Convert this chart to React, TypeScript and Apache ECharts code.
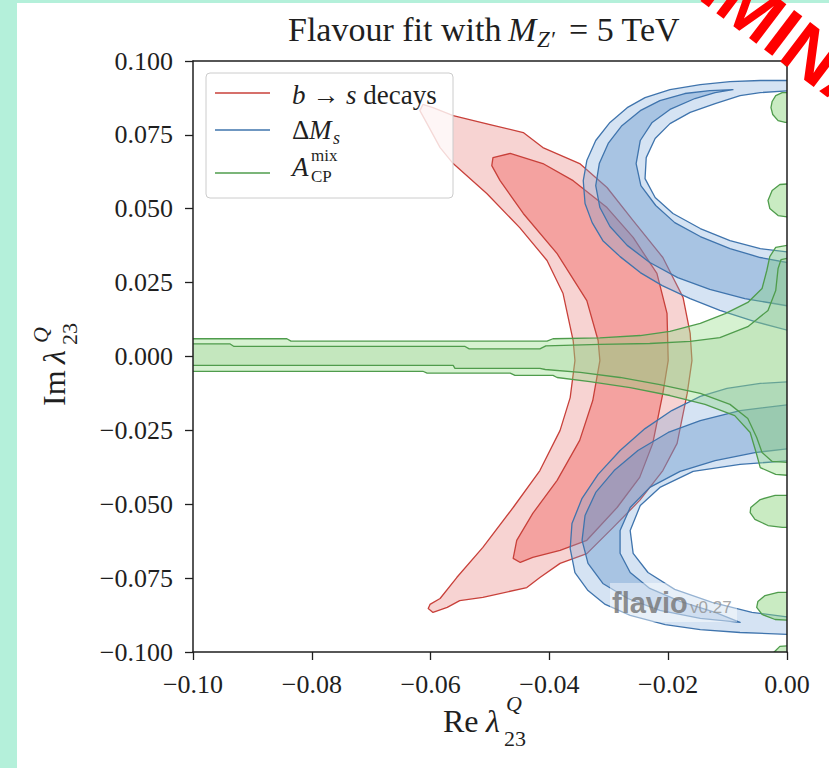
import React, { useEffect, useRef } from "react";
import * as echarts from "echarts";

// ---------- axes ----------
const X_MIN = -0.1, X_MAX = 0, X_STEP = 0.02;
const Y_MIN = -0.1, Y_MAX = 0.1, Y_STEP = 0.025;
const xTickLabels = ["−0.10", "−0.08", "−0.06", "−0.04", "−0.02", "0.00"];
const yTickLabels = ["−0.100", "−0.075", "−0.050", "−0.025", "0.000", "0.025", "0.050", "0.075", "0.100"];

// ---------- b -> s decays (red) ----------
const bsSigma2: number[][] = [
  [-0.0613, 0.0853], [-0.0596, 0.0842], [-0.0562, 0.0815], [-0.05, 0.0785], [-0.0444, 0.0758], [-0.0411, 0.0707],
  [-0.0349, 0.0653], [-0.0303, 0.0572], [-0.0259, 0.046], [-0.0209, 0.0335], [-0.0175, 0.02], [-0.0163, 0.0078],
  [-0.016, -0.0014], [-0.0168, -0.0125], [-0.0185, -0.0294], [-0.0209, -0.0386], [-0.0248, -0.0487], [-0.0293, -0.0579],
  [-0.0337, -0.0667], [-0.0382, -0.07], [-0.0416, -0.0748], [-0.0438, -0.0782], [-0.0512, -0.0815], [-0.0551, -0.0826],
  [-0.0572, -0.0849], [-0.0596, -0.0866], [-0.0604, -0.0853], [-0.0601, -0.0839], [-0.0584, -0.0819], [-0.0556, -0.0748],
  [-0.0512, -0.0646], [-0.0461, -0.0511], [-0.0416, -0.0386], [-0.0382, -0.025], [-0.0365, -0.0139], [-0.0357, -0.0014],
  [-0.036, 0.0054], [-0.0377, 0.0213], [-0.0404, 0.0325], [-0.045, 0.0436], [-0.0505, 0.0551], [-0.0562, 0.0653],
  [-0.0584, 0.0707], [-0.0606, 0.0788], [-0.0618, 0.0832],
];
const bsSigma1: number[][] = [
  [-0.0495, 0.0673], [-0.0466, 0.0687], [-0.0411, 0.0653], [-0.036, 0.0595], [-0.0303, 0.0504], [-0.0259, 0.0403],
  [-0.0219, 0.0281], [-0.0202, 0.0146], [-0.02, -0.0014], [-0.0209, -0.0125], [-0.0226, -0.0294], [-0.0248, -0.0409],
  [-0.0286, -0.0511], [-0.0337, -0.0622], [-0.0382, -0.0656], [-0.0428, -0.068], [-0.0449, -0.0697], [-0.0461, -0.0683],
  [-0.0455, -0.0622], [-0.0428, -0.0531], [-0.0387, -0.0419], [-0.0349, -0.0284], [-0.0327, -0.0149], [-0.0315, -0.0014],
  [-0.0318, 0.0054], [-0.0337, 0.0189], [-0.0387, 0.0348], [-0.0444, 0.0484], [-0.0483, 0.0595], [-0.0497, 0.0646],
];

// ---------- Delta M_s (blue) ----------
const dmsUpOuter2: number[][] = [
  [0.0008, 0.0934], [-0.0045, 0.0934], [-0.0096, 0.093], [-0.0146, 0.092], [-0.0197, 0.0903], [-0.0239, 0.0876],
  [-0.0269, 0.0842], [-0.0298, 0.0792], [-0.0322, 0.0731], [-0.0337, 0.0663], [-0.0343, 0.0595], [-0.034, 0.0518],
  [-0.0328, 0.0453], [-0.031, 0.0392], [-0.0281, 0.0338], [-0.0247, 0.0284], [-0.021, 0.024], [-0.0163, 0.0196],
  [-0.0113, 0.0156], [-0.0054, 0.0118], [0.0008, 0.0085],
];
const dmsUpHole2: number[][] = [
  [0.0008, 0.0352], [-0.0045, 0.0365], [-0.0096, 0.0392], [-0.0146, 0.0433], [-0.0192, 0.0484], [-0.0222, 0.0538],
  [-0.0239, 0.0602], [-0.0237, 0.0673], [-0.0222, 0.0738], [-0.0197, 0.0788], [-0.0163, 0.0826], [-0.0121, 0.0856],
  [-0.0079, 0.0883], [-0.0045, 0.0893], [0.0008, 0.09],
];
const dmsUpOuter1: number[][] = [
  [-0.0091, 0.0903], [-0.013, 0.09], [-0.0172, 0.089], [-0.0214, 0.0866], [-0.0247, 0.0832], [-0.0278, 0.0781],
  [-0.0301, 0.0721], [-0.0316, 0.0653], [-0.0322, 0.0578], [-0.0315, 0.0504], [-0.0298, 0.044], [-0.0269, 0.0376],
  [-0.0231, 0.0318], [-0.0184, 0.0267], [-0.013, 0.0227], [-0.0071, 0.0196], [0.0008, 0.0169],
];
const dmsUpInner1: number[][] = [
  [0.0008, 0.0315], [-0.0045, 0.0335], [-0.0096, 0.0365], [-0.0146, 0.0406], [-0.0189, 0.0453], [-0.0221, 0.0511],
  [-0.0246, 0.0578], [-0.0254, 0.0653], [-0.0247, 0.0731], [-0.0227, 0.0792], [-0.0197, 0.0836], [-0.0155, 0.0873],
  [-0.0121, 0.0893],
];
const dmsLoOuter2: number[][] = [
  [0.0008, -0.0085], [-0.0045, -0.0091], [-0.0101, -0.0108], [-0.0146, -0.0135], [-0.0194, -0.0183], [-0.0239, -0.0244],
  [-0.0281, -0.0318], [-0.0318, -0.0399], [-0.0345, -0.048], [-0.0362, -0.0565], [-0.0365, -0.065], [-0.0357, -0.0731],
  [-0.0335, -0.0792], [-0.0306, -0.0839], [-0.0264, -0.0876], [-0.0205, -0.0907], [-0.0146, -0.0924], [-0.0079, -0.0934],
  [0.0008, -0.0941],
];
const dmsLoHole2: number[][] = [
  [0.0008, -0.0883], [-0.0059, -0.0866], [-0.0126, -0.0832], [-0.0189, -0.0788], [-0.0234, -0.0731], [-0.0259, -0.0666],
  [-0.0264, -0.0589], [-0.0247, -0.0504], [-0.0214, -0.0443], [-0.0158, -0.0389], [-0.0079, -0.0365], [0.0008, -0.0352],
];
const dmsLoOuter1: number[][] = [
  [-0.0079, -0.09], [-0.0146, -0.0886], [-0.0214, -0.0859], [-0.0268, -0.0819], [-0.031, -0.0768], [-0.0335, -0.07],
  [-0.0345, -0.0622], [-0.034, -0.0538], [-0.0322, -0.046], [-0.0291, -0.0386], [-0.0251, -0.0318], [-0.02, -0.0257],
  [-0.0146, -0.0217], [-0.0079, -0.0183], [0.0008, -0.0162],
];
const dmsLoInner1: number[][] = [
  [0.0008, -0.0311], [-0.0054, -0.0325], [-0.0121, -0.0352], [-0.018, -0.0389], [-0.0231, -0.0443], [-0.0264, -0.0511],
  [-0.0281, -0.0589], [-0.0281, -0.0666], [-0.0264, -0.0731], [-0.0231, -0.0785], [-0.018, -0.0829], [-0.0121, -0.0866],
];

// ---------- A_CP^mix (green) ----------
const acp2Top: number[][] = [
  [-0.102, 0.006], [-0.0842, 0.006], [-0.0835, 0.0052], [-0.0404, 0.0052], [-0.0394, 0.006], [-0.0315, 0.0063],
  [-0.0247, 0.0071], [-0.0197, 0.0085], [-0.0146, 0.0112], [-0.0104, 0.0145], [-0.0066, 0.0183], [-0.0042, 0.023],
  [-0.0034, 0.0291], [-0.0029, 0.0338], [-0.0019, 0.0369], [0.0008, 0.0379],
];
const acp2Bottom: number[][] = [
  [0.0008, -0.0403], [-0.0019, -0.0399], [-0.0045, -0.0376], [-0.0052, -0.0325], [-0.0062, -0.0257], [-0.0088, -0.02],
  [-0.0138, -0.0162], [-0.0197, -0.0132], [-0.0264, -0.0105], [-0.0332, -0.0085], [-0.0387, -0.0071], [-0.0394, -0.0064],
  [-0.0458, -0.0064], [-0.0466, -0.0056], [-0.0606, -0.0056], [-0.0613, -0.005], [-0.102, -0.005],
];
const acp1Top: number[][] = [
  [-0.102, 0.0043], [-0.0938, 0.0043], [-0.0931, 0.0034], [-0.0542, 0.0034], [-0.0535, 0.0026], [-0.0416, 0.0026],
  [-0.0406, 0.0036], [-0.0315, 0.0041], [-0.0231, 0.0044], [-0.0163, 0.0051], [-0.0113, 0.0064], [-0.0066, 0.0101],
  [-0.0032, 0.0156], [-0.0019, 0.0223], [-0.0015, 0.0298], [-0.001, 0.0328], [0.0008, 0.0335],
];
const acp1Bottom: number[][] = [
  [0.0008, -0.0359], [-0.0025, -0.0355], [-0.0042, -0.0325], [-0.0051, -0.0274], [-0.0066, -0.021], [-0.0096, -0.0162],
  [-0.0146, -0.0125], [-0.0214, -0.0095], [-0.0281, -0.0071], [-0.0348, -0.0054], [-0.0407, -0.0044], [-0.0416, -0.004],
  [-0.0559, -0.004], [-0.0562, -0.003], [-0.102, -0.003],
];
const acpIslands: number[][][] = [
  [[0.0008, 0.101], [-0.0007, 0.101], [-0.0008, 0.0998], [-0.0002, 0.0984], [0.0008, 0.0981]],
  [[0.0008, 0.0893], [-0.0008, 0.0893], [-0.0019, 0.0883], [-0.0025, 0.0863], [-0.0027, 0.0842], [-0.0024, 0.0819], [-0.0015, 0.0798], [-0.0003, 0.0792], [0.0008, 0.0792]],
  [[0.0008, 0.0585], [-0.0012, 0.0582], [-0.0025, 0.0562], [-0.0032, 0.0528], [-0.0029, 0.0501], [-0.0015, 0.0477], [0.0008, 0.047]],
  [[0.0008, -0.047], [-0.002, -0.047], [-0.0045, -0.0484], [-0.0061, -0.0511], [-0.0062, -0.0528], [-0.0054, -0.0551], [-0.0032, -0.0572], [-0.0008, -0.0578], [0.0008, -0.0578]],
  [[0.0008, -0.0798], [-0.0015, -0.0798], [-0.0037, -0.0809], [-0.0049, -0.0829], [-0.0051, -0.0849], [-0.0042, -0.0873], [-0.002, -0.089], [0.0008, -0.0893]],
  [[0.0008, -0.0978], [-0.0012, -0.0981], [-0.0022, -0.1001], [-0.0022, -0.1015], [0.0008, -0.1015]],
];

// ---------- styles ----------
const SERIF = "'Liberation Serif', 'DejaVu Serif', serif";
const SANS = "'Liberation Sans', 'DejaVu Sans', sans-serif";
const INK = "#1f1f1f";
const RED_EDGE = "#c8403a";
const BLUE_EDGE = "#3f74ad";
const GREEN_EDGE = "#4f9c4c";

function regionSeries(id: string, polys: number[][][], fill: string, stroke: string) {
  return {
    type: "custom",
    id,
    coordinateSystem: "cartesian2d",
    clip: true,
    silent: true,
    data: polys.map((p) => p[0]),
    renderItem: (params: any, api: any) => {
      const poly = polys[params.dataIndex];
      return {
        type: "polygon",
        shape: { points: poly.map((pt) => api.coord(pt)) },
        style: { fill, stroke, lineWidth: 1.3, lineJoin: "round" },
      };
    },
  };
}

function txt(text: string, x: number, y: number, size: number, extra: any = {}) {
  return {
    type: "text",
    x,
    y,
    z: 100,
    silent: true,
    style: {
      text,
      fontFamily: SERIF,
      fontSize: size,
      fill: INK,
      align: "left",
      verticalAlign: "middle",
      ...extra,
    },
  };
}

function tickFormatter(labels: string[], min: number, step: number) {
  return (v: number) => {
    const i = Math.round((v - min) / step);
    return labels[i] ?? "";
  };
}

export default function App() {
  const ref = useRef<HTMLDivElement>(null);

  useEffect(() => {
    if (!ref.current) return;
    const chart = echarts.init(ref.current, undefined, { renderer: "svg", width: 829, height: 768 });

    const axisLineStyle = { color: INK, width: 1.5 };
    const option: any = {
      animation: false,
      backgroundColor: "transparent",
      grid: { left: 193, top: 61, width: 594, height: 591, containLabel: false },
      xAxis: [
        {
          type: "value", min: X_MIN, max: X_MAX, interval: X_STEP, position: "bottom", z: 10,
          axisLine: { show: true, onZero: false, lineStyle: axisLineStyle },
          axisTick: { show: true, length: 8, lineStyle: { color: INK, width: 1.3 } },
          axisLabel: { show: true, margin: 19, fontFamily: SERIF, fontSize: 26, color: INK, formatter: tickFormatter(xTickLabels, X_MIN, X_STEP) },
          splitLine: { show: false },
        },
        {
          type: "value", min: X_MIN, max: X_MAX, position: "top", z: 10,
          axisLine: { show: true, onZero: false, lineStyle: axisLineStyle },
          axisTick: { show: false }, axisLabel: { show: false }, splitLine: { show: false },
        },
      ],
      yAxis: [
        {
          type: "value", min: Y_MIN, max: Y_MAX, interval: Y_STEP, position: "left", z: 10,
          axisLine: { show: true, onZero: false, lineStyle: axisLineStyle },
          axisTick: { show: true, length: 8, lineStyle: { color: INK, width: 1.3 } },
          axisLabel: { show: true, margin: 20, fontFamily: SERIF, fontSize: 26, color: INK, formatter: tickFormatter(yTickLabels, Y_MIN, Y_STEP) },
          splitLine: { show: false },
        },
        {
          type: "value", min: Y_MIN, max: Y_MAX, position: "right", z: 10,
          axisLine: { show: true, onZero: false, lineStyle: axisLineStyle },
          axisTick: { show: false }, axisLabel: { show: false }, splitLine: { show: false },
        },
      ],
      series: [
        regionSeries("bs2", [bsSigma2], "rgba(230,110,105,0.30)", RED_EDGE),
        regionSeries("bs1", [bsSigma1], "rgba(240,90,85,0.40)", RED_EDGE),
        regionSeries("dmsUp2", [dmsUpOuter2.concat(dmsUpHole2)], "rgba(120,165,215,0.31)", BLUE_EDGE),
        regionSeries("dmsUp1", [dmsUpOuter1.concat(dmsUpInner1)], "rgba(90,140,200,0.36)", BLUE_EDGE),
        regionSeries("dmsLo2", [dmsLoOuter2.concat(dmsLoHole2)], "rgba(120,165,215,0.31)", BLUE_EDGE),
        regionSeries("dmsLo1", [dmsLoOuter1.concat(dmsLoInner1)], "rgba(90,140,200,0.36)", BLUE_EDGE),
        regionSeries("acp2", [acp2Top.concat(acp2Bottom)], "rgba(130,215,115,0.33)", GREEN_EDGE),
        regionSeries("acp1", [acp1Top.concat(acp1Bottom)], "rgba(150,205,140,0.28)", GREEN_EDGE),
        regionSeries("acpIslands", acpIslands, "rgba(135,210,120,0.45)", GREEN_EDGE),
      ],
      graphic: [
        // title
        txt("Flavour fit with", 288, 29, 34),
        txt("M", 508, 29, 34, { fontStyle: "italic" }),
        txt("Z′", 537, 39, 23, { fontStyle: "italic" }),
        txt("= 5 TeV", 569, 29, 34),
        // x axis label
        txt("Re", 443, 721, 32),
        txt("λ", 486, 721, 32, { fontStyle: "italic" }),
        txt("Q", 506, 703, 22, { fontStyle: "italic" }),
        txt("23", 504, 738, 22),
        // y axis label (rotated)
        {
          type: "group",
          x: 54,
          y: 356,
          rotation: Math.PI / 2,
          children: [
            txt("Im", -50, 0, 32),
            txt("λ", -8, 0, 32, { fontStyle: "italic" }),
            txt("Q", 13, -14, 22, { fontStyle: "italic" }),
            txt("23", 11, 15, 22),
          ],
        },
        // legend
        {
          type: "rect", z: 90, silent: true,
          shape: { x: 206, y: 73, width: 247, height: 125, r: 4 },
          style: { fill: "rgba(255,255,255,0.8)", stroke: "#cccccc", lineWidth: 1 },
        },
        { type: "line", z: 100, silent: true, shape: { x1: 215, y1: 93, x2: 270, y2: 93 }, style: { stroke: RED_EDGE, lineWidth: 1.5 } },
        { type: "line", z: 100, silent: true, shape: { x1: 215, y1: 130, x2: 270, y2: 130 }, style: { stroke: BLUE_EDGE, lineWidth: 1.5 } },
        { type: "line", z: 100, silent: true, shape: { x1: 215, y1: 173, x2: 270, y2: 173 }, style: { stroke: GREEN_EDGE, lineWidth: 1.5 } },
        txt("{i|b} → {i|s} decays", 292, 95, 27, { rich: { i: { fontStyle: "italic", fontFamily: SERIF, fontSize: 27, fill: INK } } }),
        txt("Δ", 292, 130, 27),
        txt("M", 309, 130, 27, { fontStyle: "italic" }),
        txt("s", 333, 138, 18, { fontStyle: "italic" }),
        txt("A", 292, 167, 27, { fontStyle: "italic" }),
        txt("mix", 311, 155, 17),
        txt("CP", 311, 176, 17),
        // flavio watermark
        {
          type: "rect", z: 50, silent: true,
          shape: { x: 610, y: 583, width: 127, height: 39 },
          style: { fill: "rgba(255,255,255,0.45)" },
        },
        txt("flavio", 612, 603, 29, { fontFamily: SANS, fontWeight: "bold", fill: "rgba(115,115,115,0.8)" }),
        txt("v0.27", 690, 607, 17, { fontFamily: SANS, fill: "rgba(145,145,145,0.8)" }),
        // stamp
        {
          type: "text", z: 200, silent: true,
          x: 559, y: -138, rotation: -0.65,
          style: { text: "PRELIMINARY", fontFamily: SANS, fontWeight: "bold", fontSize: 72, fill: "#ff0000", align: "left", verticalAlign: "middle" },
        },
      ],
    };

    chart.setOption(option);
    return () => chart.dispose();
  }, []);

  return (
    <div style={{ position: "fixed", left: 0, top: 0, width: 829, height: 768, background: "#b4f0da", overflow: "hidden" }}>
      <div style={{ position: "absolute", left: 17, top: 3, right: 0, bottom: 0, background: "#ffffff" }} />
      <div ref={ref} style={{ position: "absolute", left: 0, top: 0, width: 829, height: 768 }} />
    </div>
  );
}
